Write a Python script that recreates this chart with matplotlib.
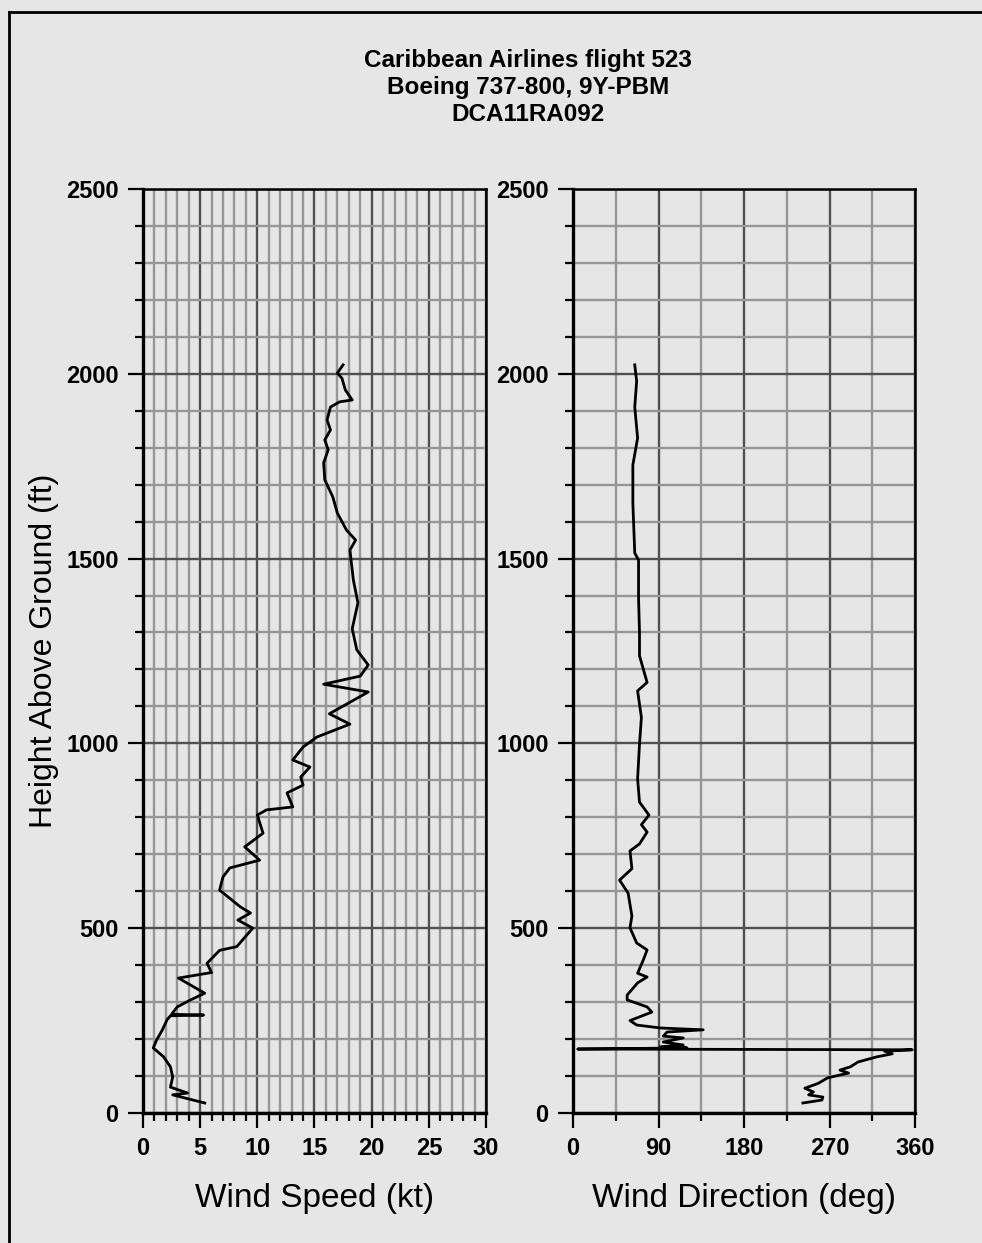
"""
Wind speed and direction profiles, Caribbean Airlines flight 523.
"""

import matplotlib
matplotlib.use("Agg")
import matplotlib.pyplot as plt
from matplotlib.lines import Line2D
from matplotlib.ticker import MultipleLocator

plt.rcParams['font.family'] = ['Liberation Sans', 'DejaVu Sans']

# wind speed profile (height ft, speed kt)
speed_height = [27, 49, 54, 70, 97, 125, 152, 176, 198, 225, 252, 263, 265, 267,
                287, 305, 324, 365, 380, 405, 440, 450, 500, 522, 541, 558, 603,
                639, 663, 684, 720, 757, 806, 820, 828, 866, 887, 909, 936, 955,
                990, 1017, 1052, 1080, 1139, 1160, 1182, 1212, 1253, 1310, 1380,
                1442, 1469, 1523, 1550, 1577, 1623, 1667, 1713, 1759, 1794, 1821,
                1848, 1875, 1910, 1924, 1929, 1956, 1988, 2002, 2024]
speed_kt = [5.4, 2.6, 3.9, 2.4, 2.6, 2.4, 1.8, 0.9, 1.2, 1.7, 2.1, 2.4, 5.3, 2.5,
            3.0, 4.1, 5.4, 3.1, 6.0, 5.6, 6.7, 8.2, 9.6, 8.3, 9.4, 8.5, 6.7,
            7.0, 7.6, 10.2, 8.9, 10.5, 10.0, 10.8, 13.1, 12.6, 14.0, 13.8, 14.6, 13.1,
            14.0, 15.2, 18.1, 16.3, 19.7, 15.8, 19.0, 19.7, 18.7, 18.3, 18.8,
            18.4, 18.3, 18.1, 18.6, 17.8, 17.0, 16.6, 15.9, 15.8, 16.2, 15.9,
            16.4, 16.1, 16.4, 17.2, 18.3, 17.7, 17.4, 17.0, 17.5]

# wind direction profile (height ft, direction deg)
dir_height = [27, 35, 43, 49, 57, 67, 80, 95, 108, 116, 125, 138, 152, 160, 167,
              171, 173, 176, 179, 184, 192, 203, 208, 219, 225, 230, 238, 250,
              257, 273, 287, 306, 319, 352, 368, 378, 414, 441, 460, 501, 533,
              595, 630, 661, 709, 728, 760, 780, 806, 841, 904, 998, 1070, 1142,
              1165, 1237, 1299, 1393, 1496, 1515, 1650, 1753, 1826, 1910, 1980, 2024]
dir_deg = [242, 262, 263, 248, 253, 244, 258, 268, 290, 281, 292, 300, 320, 336, 328,
           357, 5, 120, 92, 116, 95, 116, 95, 99, 137, 92, 67, 60,
           67, 83, 78, 57, 57, 68, 78, 68, 74, 78, 67, 60, 62,
           58, 49, 62, 60, 70, 78, 72, 80, 70, 68, 70, 72, 68,
           78, 70, 70, 69, 69, 65, 63, 63, 68, 65, 67, 65]

title_lines = ["Caribbean Airlines flight 523", "Boeing 737-800, 9Y-PBM", "DCA11RA092"]

bg = '#e6e6e6'
fig = plt.figure(figsize=(9.82, 12.43), dpi=100, facecolor=bg)
ax1 = fig.add_axes([0.1456, 0.1046, 0.3493, 0.7434], facecolor=bg)
ax2 = fig.add_axes([0.5835, 0.1046, 0.3483, 0.7434], facecolor=bg)


def style_axes(ax, xmax, xmajor, xminor, xlabel):
    ax.set_xlim(0, xmax)
    ax.set_ylim(0, 2500)
    ax.xaxis.set_major_locator(MultipleLocator(xmajor))
    ax.xaxis.set_minor_locator(MultipleLocator(xminor))
    ax.yaxis.set_major_locator(MultipleLocator(500))
    ax.yaxis.set_minor_locator(MultipleLocator(100))
    ax.grid(which='minor', color='#969696', linewidth=1.7)
    ax.grid(which='major', color='#505050', linewidth=1.7)
    ax.set_axisbelow(True)
    ax.tick_params(which='major', direction='out', length=10.5, width=1.6,
                   labelsize=17, pad=7)
    ax.tick_params(which='minor', direction='out', length=5.5, width=1.6)
    for lab in ax.get_xticklabels() + ax.get_yticklabels():
        lab.set_fontweight('bold')
    for side in ['left', 'bottom']:
        ax.spines[side].set_linewidth(2.4)
    for side in ['top', 'right']:
        ax.spines[side].set_linewidth(1.8)
    ax.set_xlabel(xlabel, fontsize=24, labelpad=16)


style_axes(ax1, 30, 5, 1, 'Wind Speed (kt)')
style_axes(ax2, 360, 90, 45, 'Wind Direction (deg)')
ax1.set_ylabel('Height Above Ground (ft)', fontsize=23, labelpad=5)

ax1.plot(speed_kt, speed_height, color='black', linewidth=2)
ax2.plot(dir_deg, dir_height, color='black', linewidth=2)

for i, line in enumerate(title_lines):
    fig.text(0.538, 0.9515 - i * 0.0220, line, ha='center', va='center',
             fontsize=17.5, fontweight='bold')

# document frame lines
fig.add_artist(Line2D([0.009, 1.0], [0.9905, 0.9905], color='black', linewidth=2))
fig.add_artist(Line2D([0.009, 0.009], [0.0, 0.9905], color='black', linewidth=2))

fig.savefig('out.png', dpi=100, facecolor=bg)
